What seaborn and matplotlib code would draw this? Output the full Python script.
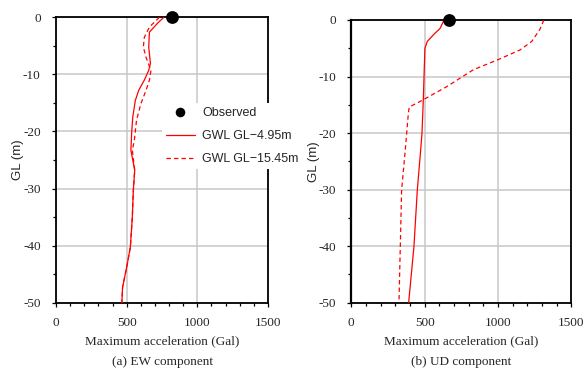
import matplotlib
matplotlib.use("Agg")
import matplotlib.pyplot as plt
from matplotlib.ticker import MultipleLocator
import seaborn as sns
import pandas as pd

# ---- data ----
ew_gwl495_depth = [0, -1.0, -2.6, -5.2, -8.1, -9.3, -11, -12.8, -14.6, -17.5, -20.4, -23.3, -26.8, -30.4, -35, -40.3, -43.8, -47.3, -50]
ew_gwl495_acc = [763, 720, 661, 656, 668, 656, 625, 585, 561, 543, 535, 530, 557, 547, 540, 526, 500, 471, 466]

ew_gwl1545_depth = [0, -1.7, -3.5, -5.2, -7, -9.3, -11, -12.8, -15.1, -18, -21.6, -23.3, -26.8, -30.4, -35, -40.3, -43.8, -47.3, -50]
ew_gwl1545_acc = [732, 661, 625, 618, 637, 672, 661, 637, 601, 570, 554, 540, 557, 547, 540, 526, 500, 471, 466]

ud_gwl495_depth = [0, -1.5, -2.35, -3.8, -5, -8.2, -14.1, -20, -23, -30.1, -40.1, -50]
ud_gwl495_acc = [632, 605, 570, 518, 502, 498, 491, 482, 473, 450, 427, 391]

ud_gwl1545_depth = [0, -1.65, -3.8, -5.3, -7, -8.8, -11.8, -14.1, -15.4, -16.5, -23, -30.1, -40.1, -50]
ud_gwl1545_acc = [1313, 1286, 1230, 1150, 1002, 832, 650, 491, 395, 389, 368, 343, 334, 325]

observed_depth = [0]
observed_ew = [822]
observed_ud = [668]

x_ticks = [0, 500, 1000, 1500]
y_ticks = [0, -10, -20, -30, -40, -50]
series_labels = ["Observed", "GWL GL\u22124.95m", "GWL GL\u221215.45m"]
x_label = "Maximum acceleration (Gal)"
y_label = "GL (m)"
captions = ["(a) EW component", "(b) UD component"]

# ---- style ----
sns.set_theme(style="white")
plt.rcParams["font.family"] = ["Liberation Sans", "DejaVu Sans"]
plt.rcParams["axes.unicode_minus"] = False
SERIF = "Liberation Serif"
RED = "#ff0000"

fig = plt.figure(figsize=(5.87, 3.75), dpi=100)
ax1 = fig.add_axes([56 / 587, 1 - 302.7 / 375, 212 / 587, 285.4 / 375])
ax2 = fig.add_axes([351.3 / 587, 1 - 302.7 / 375, 220 / 587, 282.7 / 375])


def draw(ax, d1, a1, d2, a2, obs):
    df1 = pd.DataFrame({"acc": a1, "depth": d1})
    df2 = pd.DataFrame({"acc": a2, "depth": d2})
    sns.lineplot(data=df1, x="acc", y="depth", sort=False, estimator=None,
                 color=RED, lw=0.9, ax=ax, label=series_labels[1], zorder=4)
    sns.lineplot(data=df2, x="acc", y="depth", sort=False, estimator=None,
                 color=RED, lw=0.9, ax=ax, label=series_labels[2], zorder=4,
                 dashes=False)
    ax.lines[-1].set_linestyle((0, (3.5, 2.5)))
    sns.scatterplot(x=obs, y=observed_depth, ax=ax, color="black", s=85,
                    edgecolor="black", linewidth=0, zorder=6, clip_on=False,
                    label=series_labels[0])
    ax.set_xlim(0, 1500)
    ax.set_ylim(-50, 0)
    ax.set_xticks(x_ticks)
    ax.set_yticks(y_ticks)
    ax.xaxis.set_minor_locator(MultipleLocator(100))
    ax.yaxis.set_minor_locator(MultipleLocator(5))
    ax.grid(True, which="major", color="#c8c8c8", lw=1.1)
    ax.set_axisbelow(True)
    for s in ax.spines.values():
        s.set_visible(True)
        s.set_color("black")
        s.set_linewidth(1.3)
    ax.tick_params(which="both", direction="out", bottom=True, left=True,
                   top=False, right=False, color="black", width=0.9)
    ax.tick_params(which="major", length=3)
    ax.tick_params(which="minor", length=2.5)
    ax.tick_params(axis="x", which="major", pad=7)
    ax.tick_params(axis="y", which="major", pad=8)
    for t in ax.get_xticklabels() + ax.get_yticklabels():
        t.set_fontfamily(SERIF)
        t.set_fontsize(9.5)
    ax.set_xlabel(x_label, fontfamily=SERIF, fontsize=9.5, labelpad=5)
    ax.set_ylabel(y_label, fontsize=9.5, labelpad=-1)


draw(ax1, ew_gwl495_depth, ew_gwl495_acc, ew_gwl1545_depth, ew_gwl1545_acc, observed_ew)
draw(ax2, ud_gwl495_depth, ud_gwl495_acc, ud_gwl1545_depth, ud_gwl1545_acc, observed_ud)
ax2.spines["left"].set_linewidth(1.6)

ax2.get_legend().remove()
h, l = ax1.get_legend_handles_labels()
order = [l.index(x) for x in series_labels]
ax1.get_legend().remove()
leg = ax1.legend([h[i] for i in order], [l[i] for i in order],
                 loc="upper left", bbox_to_anchor=(162 / 587, 1 - 103 / 375),
                 bbox_transform=fig.transFigure, frameon=True, fancybox=False,
                 facecolor="white", edgecolor="none", framealpha=1,
                 fontsize=9, handlelength=2.3, handletextpad=0.6,
                 labelspacing=0.9, borderpad=0.3, borderaxespad=0,
                 markerscale=0.75)
leg.set_zorder(10)

fig.text((56 + 268) / 2 / 587, 1 - 362 / 375, captions[0], ha="center", va="center",
         fontfamily=SERIF, fontsize=9.5)
fig.text((351 + 572) / 2 / 587, 1 - 362 / 375, captions[1], ha="center", va="center",
         fontfamily=SERIF, fontsize=9.5)

fig.savefig("out.png", dpi=100)
